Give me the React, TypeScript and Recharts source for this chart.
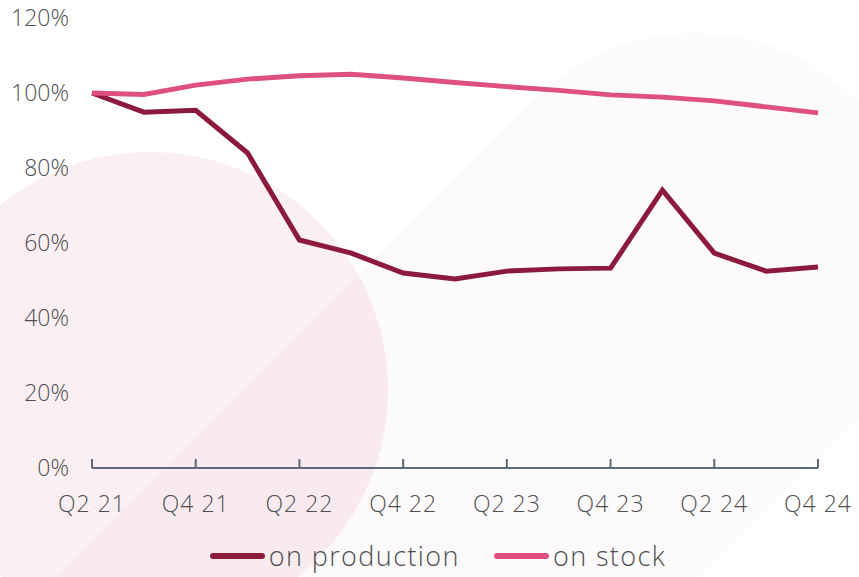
import { LineChart, Line, XAxis, YAxis, Legend } from "recharts"

const quarters = [
	"Q2 21", "Q3 21", "Q4 21", "Q1 22", "Q2 22", "Q3 22", "Q4 22", "Q1 23",
	"Q2 23", "Q3 23", "Q4 23", "Q1 24", "Q2 24", "Q3 24", "Q4 24",
]
const onProduction = [100, 94.9, 95.4, 84, 60.8, 57.3, 52, 50.4, 52.5, 53.1, 53.3, 74.1, 57.3, 52.5, 53.6]
const onStock = [100, 99.6, 102.1, 103.7, 104.6, 105, 104, 102.8, 101.7, 100.7, 99.5, 98.9, 97.9, 96.3, 94.7]
const yTicks = [0, 20, 40, 60, 80, 100, 120]

const data = quarters.map((q, i) => ({
	name: q,
	production: onProduction[i],
	stock: onStock[i],
}))

const FONT = "'Open Sans', sans-serif"
const TEXT = "#4f4f4f"
const AXIS = "#5d6b78"

const XTick = (props: any) => {
	const { x, y, payload } = props
	return (
		<g>
			<line x1={x} y1={y - 9} x2={x} y2={y} stroke={AXIS} strokeWidth={2} />
			<text x={x} y={y + 44} textAnchor="middle" fill={TEXT} fontSize={23} fontWeight={300} fontFamily={FONT} letterSpacing={1}>
				{payload.value}
			</text>
		</g>
	)
}

const LegendContent = () => (
	<div style={{ display: "flex", justifyContent: "center", gap: 34, paddingLeft: 58, paddingTop: 6, lineHeight: "30px", fontFamily: FONT, fontWeight: 300, fontSize: 27, letterSpacing: 1.4, color: TEXT }}>
		{[
			{ label: "on production", color: "#8c1a3d" },
			{ label: "on stock", color: "#e0507e" },
		].map((s) => (
			<div key={s.label} style={{ display: "flex", alignItems: "center" }}>
				<span style={{ display: "inline-block", width: 55, height: 6, borderRadius: 3, background: s.color, marginRight: 4 }} />
				<span>{s.label}</span>
			</div>
		))}
	</div>
)

export default function App() {
	return (
		<div style={{ position: "absolute", left: 0, top: 0, width: 859, height: 577, background: "#fff", overflow: "hidden" }}>
			<svg width={859} height={577} style={{ position: "absolute", left: 0, top: 0 }}>
				<circle cx={150} cy={390} r={238} fill="rgba(222,150,175,0.15)" />
				<rect x={468} y={33} width={454} height={2000} rx={227} fill="rgba(222,150,175,0.05)" transform="rotate(45 695 260)" />
			</svg>
			<div style={{ position: "absolute", left: 0, top: 0 }}>
				<LineChart width={859} height={577} data={data} margin={{ top: 18, right: 41, bottom: 0, left: 0 }}>
					<XAxis
						dataKey="name"
						interval={1}
						tickSize={0}
						tickMargin={0}
						height={67}
						stroke={AXIS}
						strokeWidth={2}
						tick={<XTick />}
						tickLine={false}
					/>
					<YAxis
						domain={[0, 120]}
						ticks={yTicks}
						width={92}
						axisLine={false}
						tickLine={false}
						tickSize={0}
						tickMargin={23}
						tickFormatter={(v) => `${v}%`}
						tick={{ fill: TEXT, fontSize: 23, fontWeight: 300, fontFamily: FONT }}
					/>
					<Legend verticalAlign="bottom" height={42} content={<LegendContent />} />
					<Line dataKey="production" name="on production" stroke="#8c1a3d" strokeWidth={5} dot={false} isAnimationActive={false} />
					<Line dataKey="stock" name="on stock" stroke="#e0507e" strokeWidth={5} dot={false} isAnimationActive={false} />
				</LineChart>
			</div>
		</div>
	)
}
